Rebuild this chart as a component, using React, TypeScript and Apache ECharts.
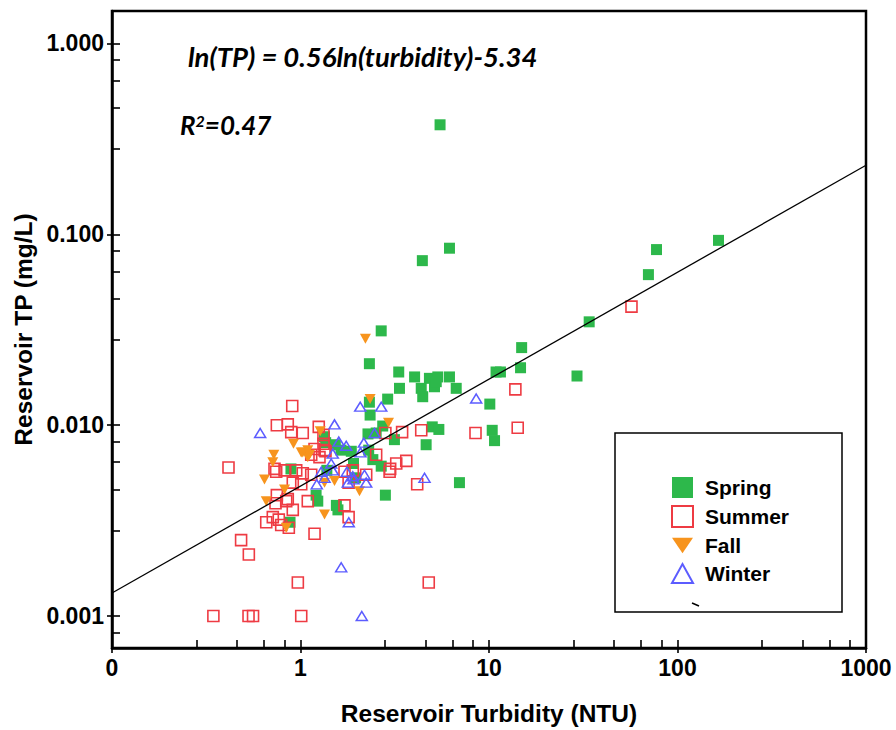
import React, { useEffect, useRef } from 'react';
import * as echarts from 'echarts';

// ---- Data (turbidity NTU, TP mg/L) ----
const springData: [number, number][] = [
  [5.5, 0.375], [6.17, 0.0846], [4.43, 0.0728], [165, 0.093], [77.4, 0.0832],
  [70.1, 0.0615], [34.0, 0.0348], [14.9, 0.0255], [14.7, 0.02], [29.3, 0.0181],
  [10.9, 0.019], [11.5, 0.019], [10.1, 0.0129], [10.4, 0.0094], [10.7, 0.0083],
  [6.97, 0.005], [2.68, 0.0312], [2.32, 0.021], [3.32, 0.019], [4.03, 0.0179],
  [4.83, 0.0176], [5.35, 0.0179], [6.17, 0.0179], [5.14, 0.0159], [5.25, 0.0169],
  [3.35, 0.0156], [4.37, 0.0156], [4.45, 0.0141], [6.7, 0.0156], [2.9, 0.0137],
  [2.32, 0.0132], [5.0, 0.0098], [5.42, 0.0095], [4.64, 0.0079], [2.34, 0.0113],
  [2.73, 0.0099], [2.52, 0.0091], [2.28, 0.009], [3.15, 0.0084], [1.53, 0.0079],
  [1.64, 0.0074], [1.86, 0.0073], [2.3, 0.0074], [2.42, 0.0066], [2.68, 0.0061],
  [1.91, 0.0063], [1.38, 0.0058], [1.96, 0.0053], [1.34, 0.0087], [1.36, 0.0081],
  [0.89, 0.0059], [1.21, 0.0043], [1.235, 0.004], [0.88, 0.0031], [2.82, 0.0043],
  [1.55, 0.0038], [1.58, 0.0036],
];

const summerData: [number, number][] = [
  [57, 0.0418], [13.8, 0.0154], [14.2, 0.0097], [8.48, 0.0091], [4.37, 0.0094],
  [3.46, 0.0092], [3.64, 0.0065], [4.16, 0.0049], [0.904, 0.0126], [0.749, 0.01],
  [0.856, 0.0101], [0.893, 0.0092], [1.028, 0.0091], [1.25, 0.0098], [1.187, 0.0075],
  [1.341, 0.0074], [1.14, 0.007], [1.261, 0.0068], [0.728, 0.0059], [0.823, 0.0058],
  [0.949, 0.0058], [0.743, 0.0057], [1.028, 0.0056], [1.14, 0.0055], [0.91, 0.005],
  [1.009, 0.0049], [0.749, 0.0043], [0.856, 0.0041], [0.84, 0.004], [0.737, 0.0039],
  [1.093, 0.004], [0.91, 0.0036], [0.713, 0.0033], [0.658, 0.0031], [0.767, 0.0032],
  [0.79, 0.003], [0.867, 0.0029], [1.187, 0.0027], [0.484, 0.0025], [2.82, 0.0091],
  [1.324, 0.008], [1.357, 0.0073], [2.52, 0.007], [3.22, 0.0063], [2.99, 0.0059],
  [1.894, 0.0058], [1.712, 0.0057], [2.231, 0.0055], [2.97, 0.0057], [1.712, 0.0038],
  [1.8, 0.0033], [1.8, 0.005], [1.324, 0.0089], [0.415, 0.006], [0.532, 0.0021],
  [0.968, 0.0015], [4.79, 0.0015], [0.345, 0.001], [0.53, 0.001], [0.56, 0.001],
  [1.009, 0.001],
];

const fallData: [number, number][] = [
  [2.21, 0.0284], [2.34, 0.0137], [2.93, 0.0103], [1.272, 0.0093], [0.918, 0.008],
  [1.009, 0.0072], [1.028, 0.0072], [1.093, 0.0074], [1.093, 0.0068], [1.116, 0.007],
  [0.722, 0.007], [0.713, 0.0064], [0.644, 0.0052], [0.823, 0.0046], [0.658, 0.004],
  [0.84, 0.0029], [1.341, 0.0034], [1.515, 0.0051], [1.341, 0.005], [2.056, 0.0045],
];

const winterData: [number, number][] = [
  [0.611, 0.0091], [1.515, 0.0101], [2.074, 0.0125], [2.681, 0.0125], [8.55, 0.0138],
  [1.596, 0.0082], [1.748, 0.0078], [2.167, 0.0081], [1.484, 0.0071], [2.081, 0.0072],
  [1.455, 0.0063], [1.484, 0.0058], [1.894, 0.0054], [1.288, 0.0057], [1.341, 0.0053],
  [1.22, 0.0049], [1.761, 0.0057], [1.782, 0.005], [1.91, 0.0052], [2.231, 0.005],
  [2.185, 0.0055], [2.47, 0.0091], [1.804, 0.0031], [4.55, 0.0053], [1.644, 0.0018],
  [2.114, 0.001],
];

// regression line ln(TP) = 0.56 ln(turbidity) - 5.34, end points
const fitLine: [number, number][] = [[0.1, 0.00132], [1000, 0.23]];

const seriesNames = ['Spring', 'Summer', 'Fall', 'Winter'];
const xMajorTicks = [0.1, 1, 10, 100, 1000];
const xTickLabels = ['0', '1', '10', '100', '1000'];
const yMajorTicks = [0.001, 0.01, 0.1, 1];
const yTickLabels = ['0.001', '0.010', '0.100', '1.000'];
const minorSteps = [2.8, 4.6, 6.4, 8.2];
const xRange = [0.1, 1000];
const yRange = [0.00068, 1.48];

const equationText = 'ln(TP) = 0.56ln(turbidity)-5.34';
const xTitle = 'Reservoir Turbidity (NTU)';
const yTitle = 'Reservoir TP (mg/L)';

const FONT = '"Liberation Sans", Arial, sans-serif';
const EQ_FONT = 'Lato, "Open Sans", sans-serif';

function minorValues(majors: number[], lo: number, hi: number): number[] {
  const out: number[] = [];
  const decades = [majors[0] / 10, ...majors];
  decades.forEach((d) => minorSteps.forEach((s) => {
    const v = d * s;
    if (v >= lo && v <= hi) out.push(v);
  }));
  return out;
}

function labelFor(v: number, ticks: number[], labels: string[]): string {
  for (let i = 0; i < ticks.length; i++) {
    if (Math.abs(Math.log10(v) - Math.log10(ticks[i])) < 1e-6) return labels[i];
  }
  return '';
}

export default function App() {
  const ref = useRef<HTMLDivElement>(null);
  useEffect(() => {
    if (!ref.current) return;
    const chart = echarts.init(ref.current, undefined, { renderer: 'svg' });
    const xAll = [...xMajorTicks, ...minorValues(xMajorTicks, xRange[0], xRange[1])];
    const yAll = [...yMajorTicks, ...minorValues(yMajorTicks, yRange[0], yRange[1])];
    const labelStyle = { color: '#000', fontFamily: FONT, fontWeight: 'bold' as const, fontSize: 23 };
    const titleStyle = { color: '#000', fontFamily: FONT, fontWeight: 'bold' as const, fontSize: 24.5 };
    const tickLine = { color: '#000', width: 1.6 };

    chart.setOption({
      animation: false,
      backgroundColor: '#fff',
      grid: {
        left: 112, right: 30, top: 11, bottom: 82,
        show: true, borderColor: '#000', borderWidth: 2.5, backgroundColor: 'transparent',
        containLabel: false, outerBoundsMode: 'none',
      },
      legend: {
        data: [
          { name: 'Spring' },
          { name: 'Summer' },
          { name: 'Fall', icon: 'path://M0,0 L19,0 L9.5,14 Z' },
          { name: 'Winter', icon: 'path://M0,17 L9.5,0 L19,17 Z' },
        ],
        orient: 'vertical', left: 671, top: 477, padding: 0,
        itemWidth: 21, itemHeight: 21, itemGap: 7, symbolRotate: 0,
        selectedMode: false,
        textStyle: { color: '#000', fontFamily: FONT, fontWeight: 'bold', fontSize: 21, padding: [0, 0, 0, 7] },
        z: 6,
      },
      xAxis: [
        {
          type: 'log', logBase: 10, min: xRange[0], max: xRange[1],
          position: 'bottom',
          name: xTitle, nameLocation: 'middle', nameGap: 53, nameTextStyle: titleStyle,
          axisLine: { show: true, onZero: false, lineStyle: { color: '#000', width: 2.5 } },
          axisTick: { show: true, inside: true, length: 8, lineStyle: tickLine, customValues: xAll },
          axisLabel: {
            ...labelStyle, margin: 8, customValues: xMajorTicks,
            formatter: (v: number) => labelFor(v, xMajorTicks, xTickLabels),
          },
          splitLine: { show: false }, minorTick: { show: false },
        },
        {
          type: 'log', logBase: 10, min: xRange[0], max: xRange[1], position: 'bottom',
          axisLine: { show: false },
          axisTick: { show: true, inside: false, length: 5, lineStyle: tickLine, customValues: xMajorTicks },
          axisLabel: { show: false }, splitLine: { show: false },
        },
      ],
      yAxis: [
        {
          type: 'log', logBase: 10, min: yRange[0], max: yRange[1],
          position: 'left',
          name: yTitle, nameLocation: 'middle', nameGap: 73, nameRotate: 90, nameTextStyle: titleStyle,
          axisLine: { show: true, onZero: false, lineStyle: { color: '#000', width: 2.5 } },
          axisTick: { show: true, inside: true, length: 8, lineStyle: tickLine, customValues: yAll },
          axisLabel: {
            ...labelStyle, margin: 8, customValues: yMajorTicks,
            formatter: (v: number) => labelFor(v, yMajorTicks, yTickLabels),
          },
          splitLine: { show: false }, minorTick: { show: false },
        },
        {
          type: 'log', logBase: 10, min: yRange[0], max: yRange[1], position: 'left',
          axisLine: { show: false },
          axisTick: { show: true, inside: false, length: 5, lineStyle: tickLine, customValues: yMajorTicks },
          axisLabel: { show: false }, splitLine: { show: false },
        },
      ],
      series: [
        {
          name: seriesNames[0], type: 'scatter', data: springData, symbol: 'rect', symbolSize: 11,
          itemStyle: { color: '#2DB84B', opacity: 1 }, z: 2,
        },
        {
          name: seriesNames[1], type: 'scatter', data: summerData, symbol: 'rect', symbolSize: 11,
          itemStyle: { color: 'rgba(255,255,255,0)', borderColor: '#EE3B43', borderWidth: 1.6, opacity: 1 }, z: 3,
        },
        {
          name: seriesNames[2], type: 'scatter', data: fallData, symbol: 'triangle', symbolRotate: 180,
          symbolSize: [11, 10], itemStyle: { color: '#F7941D', opacity: 1 }, z: 4,
        },
        {
          name: seriesNames[3], type: 'scatter', data: winterData, symbol: 'triangle', symbolSize: [11, 9],
          itemStyle: { color: 'rgba(255,255,255,0)', borderColor: '#5C5CFF', borderWidth: 1.5, opacity: 1 }, z: 5,
        },
        {
          type: 'line', data: fitLine, symbol: 'none', silent: true,
          lineStyle: { color: '#000', width: 1.3 }, z: 6,
        },
      ],
      graphic: [
        {
          type: 'rect', z: 5,
          shape: { x: 615, y: 433, width: 227, height: 179 },
          style: { fill: '#fff', stroke: '#000', lineWidth: 1.5 },
        },
        {
          type: 'line', z: 7,
          shape: { x1: 692, y1: 603, x2: 699, y2: 606 },
          style: { stroke: '#000', lineWidth: 1.5 },
        },
        {
          type: 'text', z: 7, x: 188, y: 56,
          style: {
            text: equationText, fill: '#000',
            font: `italic bold 27.5px ${EQ_FONT}`, verticalAlign: 'middle', align: 'left',
          },
        },
        {
          type: 'text', z: 7, x: 180, y: 112,
          style: {
            text: '{a|R}{b|2}{a|=0.47}', fill: '#000',
            rich: {
              a: { fontFamily: EQ_FONT, fontStyle: 'italic', fontWeight: 'bold', fontSize: 26, fill: '#000', verticalAlign: 'bottom' },
              b: { fontFamily: EQ_FONT, fontStyle: 'italic', fontWeight: 'bold', fontSize: 16, fill: '#000', verticalAlign: 'top' },
            },
          },
        },
      ],
    });
    return () => chart.dispose();
  }, []);
  return <div ref={ref} style={{ position: 'absolute', left: 0, top: 0, width: 896, height: 730 }} />;
}
